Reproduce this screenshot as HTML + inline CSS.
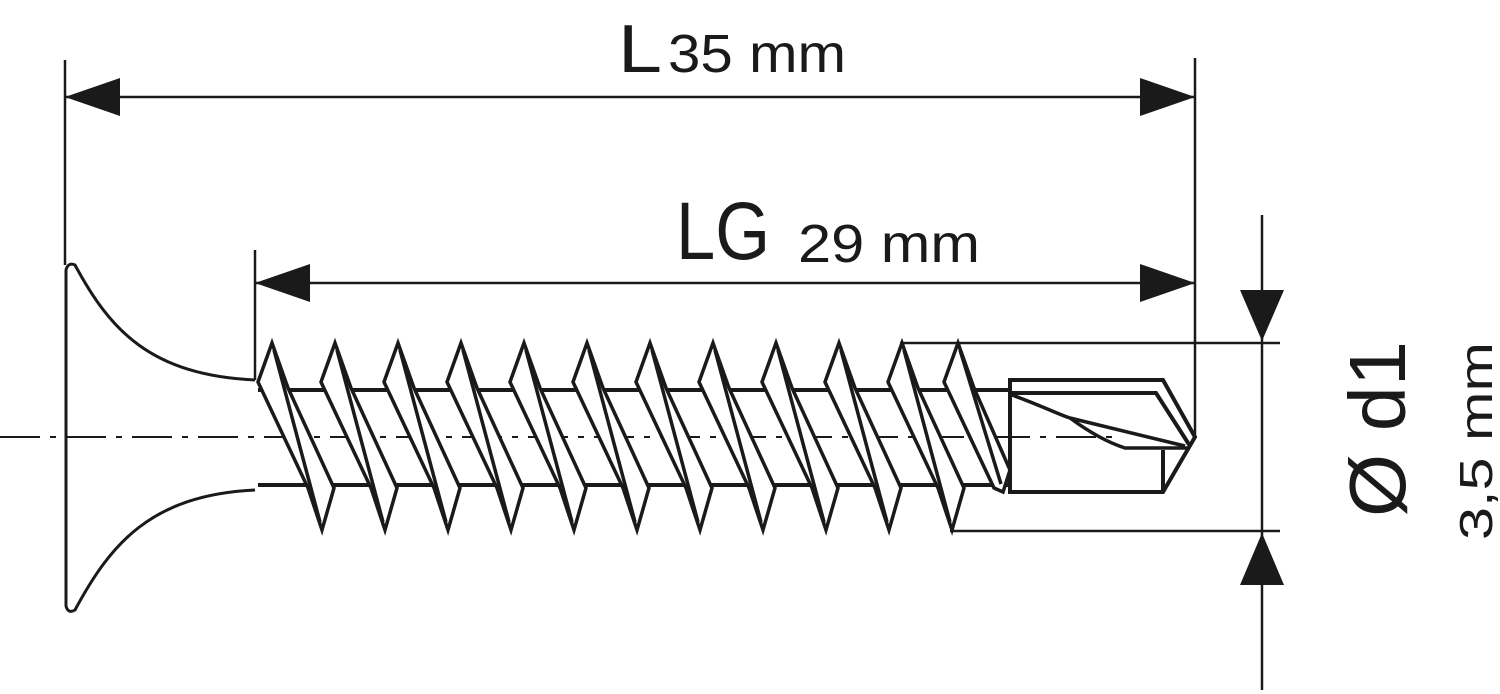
<!DOCTYPE html>
<html><head><meta charset="utf-8"><style>
html,body{margin:0;padding:0;background:#fff}
svg{display:block}
text{font-family:"Liberation Sans","DejaVu Sans",sans-serif;fill:#1a1a1a}
</style></head><body>
<svg id="s" width="1500" height="694" viewBox="0 0 1500 694" xmlns="http://www.w3.org/2000/svg">
<g stroke="#1a1a1a" fill="none" stroke-width="2.5">
<line x1="65" y1="60" x2="65" y2="265"/>
<line x1="1195" y1="58" x2="1195" y2="437"/>
<line x1="255" y1="250" x2="255" y2="380"/>
<line x1="65" y1="97" x2="1195" y2="97"/>
<line x1="255" y1="283" x2="1195" y2="283"/>
<line x1="1262" y1="215" x2="1262" y2="690"/>
<line x1="900" y1="343" x2="1280" y2="343"/>
<line x1="950" y1="531" x2="1280" y2="531"/>
<line x1="0" y1="437" x2="1120" y2="437" stroke-width="2" stroke-dasharray="40 10 6 10"/>
<path stroke-width="3" d="M255,380 C150,375 110,330 75,265 Q68,262 66,270 L66,606 Q68,614 75,610 C110,545 150,495 255,490"/>
<line x1="258" y1="390" x2="1010" y2="390" stroke-width="4"/>
<line x1="258" y1="485" x2="1010" y2="485" stroke-width="4"/>
<path stroke-width="4" d="M1010,380 L1163,380 L1195,437 L1163,492 L1010,492 Z"/>
<path stroke-width="4" fill="none" d="M1010,393 L1156,393 L1190,446"/>
<path stroke-width="3.5" d="M1012,395 C1040,405 1060,415 1070,418 L1185,446"/>
<path stroke-width="3.5" d="M1070,418 Q1100,440 1125,448 L1190,448"/>
<line x1="1163" y1="450" x2="1163" y2="492" stroke-width="4"/>
</g>
<g id="thr" stroke="#1a1a1a" stroke-width="3.5" fill="#fff" stroke-linejoin="miter"></g>
<g fill="#1a1a1a">
<polygon points="65,97 120,78 120,116"/>
<polygon points="1195,97 1140,78 1140,116"/>
<polygon points="255,283 310,264 310,302"/>
<polygon points="1195,283 1140,264 1140,302"/>
<polygon points="1262,341 1240,290 1284,290"/>
<polygon points="1262,533 1240,585 1284,585"/>
</g>
<text x="618" y="72" font-size="68" textLength="44" lengthAdjust="spacingAndGlyphs">L</text>
<text x="668" y="72" font-size="54" textLength="178" lengthAdjust="spacingAndGlyphs">35 mm</text>
<text x="676" y="259" font-size="82" textLength="94" lengthAdjust="spacingAndGlyphs">LG</text>
<text x="798" y="262" font-size="54" textLength="182" lengthAdjust="spacingAndGlyphs">29 mm</text>
<text transform="translate(1405,517) rotate(-90)" font-size="80" textLength="176" lengthAdjust="spacingAndGlyphs">Ø d1</text>
<text transform="translate(1492,540) rotate(-90)" font-size="46" textLength="198" lengthAdjust="spacingAndGlyphs">3,5 mm</text>
</svg>
<script>
var g=document.getElementById('thr'),h='';
for(var i=0;i<12;i++){
 var x=272+63*i;
 if(i==11)x=958;
 var last=(i==11);
 var by=last?492:530, bx=last?x+45:x+50;
 h+='<polygon points="'+(x-14)+',382 '+x+',343 '+(x+16)+',388 '+(last?x+52:x+62)+','+(last?470:488)+' '+bx+','+by+' '+(x+36)+',488"/>';
 h+='<line x1="'+(x+2)+'" y1="350" x2="'+(bx-2)+'" y2="'+(by-8)+'" />';
}
g.innerHTML=h;
</script>
</body></html>
